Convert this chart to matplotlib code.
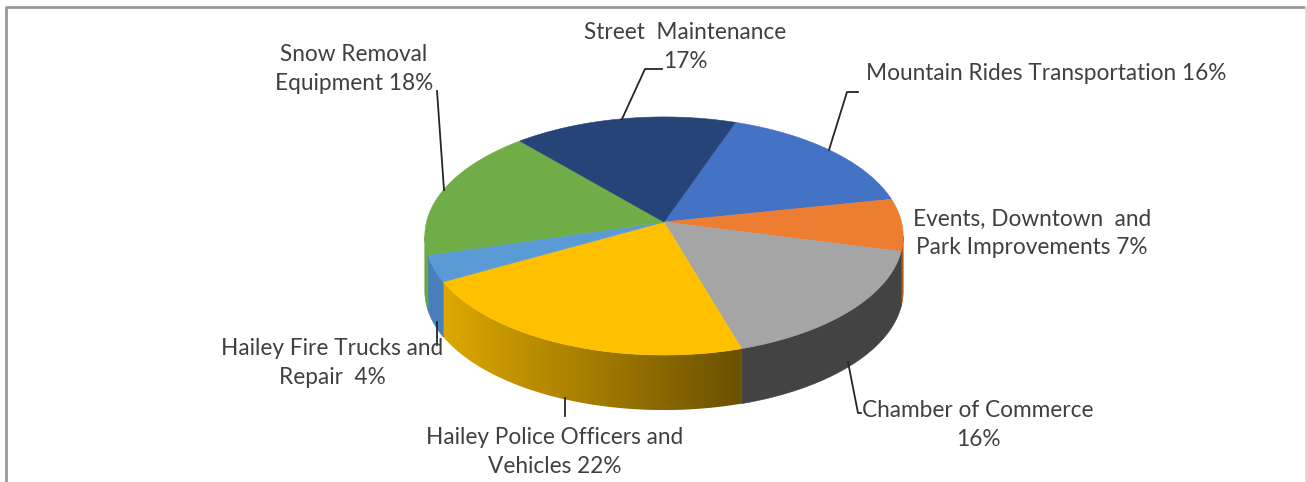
import numpy as np
from matplotlib import pyplot as plt
from matplotlib.colors import LinearSegmentedColormap
from matplotlib.patches import Polygon

# clockwise from the top right slice
labels = ["Mountain Rides Transportation 16%",
          "Events, Downtown  and\nPark Improvements 7%",
          "Chamber of Commerce\n16%",
          "Hailey Police Officers and\nVehicles 22%",
          "Hailey Fire Trucks and\nRepair  4%",
          "Snow Removal\nEquipment 18%",
          "Street  Maintenance\n17%"]
shares = [16.4, 7.1, 16.4, 21.7, 3.6, 17.9, 16.9]
colors = ["#4472C4", "#ED7D31", "#A5A5A5", "#FFC000", "#5B9BD5", "#70AD47", "#264478"]
side_colors = ["#3A62A8", "#A85A20", "#434343", None, "#4780BA", "#6BA544", "#1E3660"]
police_ramp = ["#DDA800", "#6A5000"]

label_pos = [(1046, 74), (1032, 233), (978, 425), (555, 452), (332, 363), (354, 69), (685, 47)]
leaders = [[(858, 92), (847, 92), (829, 150)],
           [(848, 362), (858, 413), (861, 413)],
           [(565, 398), (565, 416)],
           [(437, 322), (437, 345)],
           [(437, 91), (444, 190)],
           [(662, 69), (645, 69), (622, 119)]]

start_angle = 70.5
cx, cy = 664, 222
ax_x, ax_y, tilt = 237.5, 117.4, 0.1176
depth = 55
front_from, front_to = -173, -7


def project(deg, drop=0):
    t = np.radians(deg)
    w = 1 + tilt * np.sin(t)
    return np.column_stack((cx + ax_x * np.cos(t) / w,
                            cy - ax_y * np.sin(t) / w + drop))


fig = plt.figure(figsize=(13.07, 4.82), dpi=100)
ax = fig.add_axes([0, 0, 1, 1])
ax.set_xlim(0, 1307)
ax.set_ylim(482, 0)
ax.axis("off")
plt.rcParams["font.family"] = ["Lato", "DejaVu Sans"]

# screenshot frame: dark top and left, faint right, no bottom
ax.plot([6, 6, 1306], [482, 6.5, 6.5], color="#999999", lw=2)
ax.plot([1306, 1306], [6.5, 482], color="#DDDDDD", lw=1.5)

edges = start_angle - np.cumsum([0] + shares) * 3.6
police_cmap = LinearSegmentedColormap.from_list("police", police_ramp)

# rim first, slices on top of it
for i in range(len(shares)):
    hi = min(edges[i], front_to)
    lo = max(edges[i + 1], front_from)
    if hi <= lo:
        continue
    arc = np.linspace(hi, lo, 80)
    outline = np.vstack((project(arc), project(arc[::-1], depth)))
    if side_colors[i] is None:
        poly = Polygon(outline, fc="none", ec="none")
        ax.add_patch(poly)
        xs = outline[:, 0]
        im = ax.imshow(np.linspace(0, 1, 256)[None, :], cmap=police_cmap, aspect="auto",
                       extent=(xs.min(), xs.max(), outline[:, 1].max(), outline[:, 1].min()),
                       zorder=1)
        im.set_clip_path(poly)
    else:
        ax.add_patch(Polygon(outline, fc=side_colors[i], ec=side_colors[i], lw=0.5, zorder=1))

ax.set_xlim(0, 1307)
ax.set_ylim(482, 0)

for i in range(len(shares)):
    arc = np.linspace(edges[i], edges[i + 1], 120)
    outline = np.vstack(([[cx, cy]], project(arc)))
    ax.add_patch(Polygon(outline, fc=colors[i], ec=colors[i], lw=0.4, zorder=2))

for pts in leaders:
    xs, ys = zip(*pts)
    ax.plot(xs, ys, color="#262626", lw=1.3, zorder=3)

for text, (x, y) in zip(labels, label_pos):
    ax.text(x, y, text, ha="center", va="center", fontsize=16.3, color="#404040",
            linespacing=1.42, zorder=4)

fig.savefig("out.png", dpi=100)
